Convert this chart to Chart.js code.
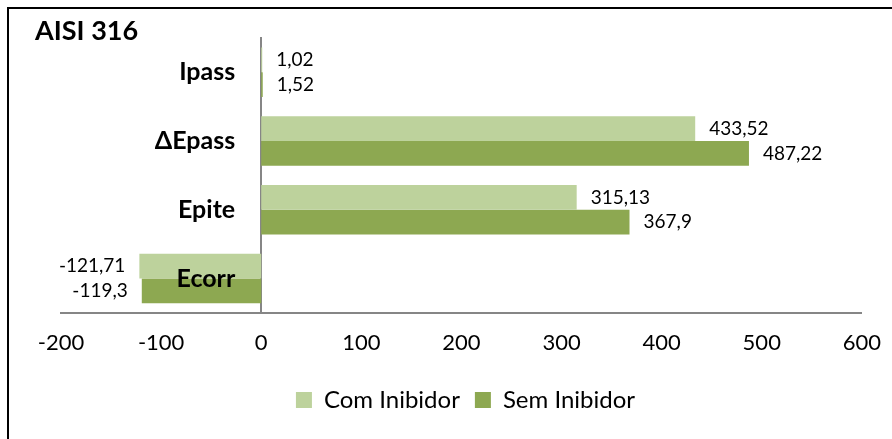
<!DOCTYPE html>
<html>
<head>
<meta charset="utf-8">
<script src="https://cdn.jsdelivr.net/npm/chart.js@4"></script>
<style>
  html, body { margin: 0; padding: 0; background: #fff; }
  #wrap { width: 892px; height: 439px; position: relative; }
</style>
</head>
<body>
<div id="wrap"><canvas id="chart" width="892" height="439"></canvas></div>
<script>
// data
const categories = ["Ipass", "\u0394Epass", "Epite", "Ecorr"];
const comInibidor = [1.02, 433.52, 315.13, -121.71];
const semInibidor = [1.52, 487.22, 367.9, -119.3];
const xTicks = [-200, -100, 0, 100, 200, 300, 400, 500, 600];
const chartTitle = "AISI 316";

const FONT = "Lato, 'Open Sans', sans-serif";

// value labels next to the bar ends, comma as decimal mark
const valueLabels = {
  id: "valueLabels",
  afterDatasetsDraw(chart) {
    const ctx = chart.ctx;
    ctx.save();
    ctx.font = "19px " + FONT;
    ctx.fillStyle = "#000";
    ctx.textBaseline = "middle";
    chart.data.datasets.forEach((ds, i) => {
      const meta = chart.getDatasetMeta(i);
      meta.data.forEach((bar, j) => {
        const v = ds.data[j];
        const txt = String(v).replace(".", ",");
        if (v >= 0) {
          ctx.textAlign = "left";
          ctx.fillText(txt, bar.x + 14, bar.y);
        } else {
          ctx.textAlign = "right";
          ctx.fillText(txt, bar.x - 14, bar.y);
        }
      });
    });
    ctx.restore();
  }
};

// category names sit left of the zero line, over the bars (like the excel original)
const categoryLabels = {
  id: "categoryLabels",
  afterDatasetsDraw(chart) {
    const ctx = chart.ctx;
    const xs = chart.scales.x, ys = chart.scales.y;
    const x0 = xs.getPixelForValue(0);
    ctx.save();
    ctx.font = "bold 25px " + FONT;
    ctx.fillStyle = "#000";
    ctx.textAlign = "right";
    ctx.textBaseline = "middle";
    categories.forEach((c, i) => {
      ctx.fillText(c, x0 - 26, ys.getPixelForValue(i));
    });
    ctx.restore();
  }
};

// free floating title in the top left corner + frame (only top/left edges show)
const titleAndFrame = {
  id: "titleAndFrame",
  afterDraw(chart) {
    const ctx = chart.ctx;
    ctx.save();
    ctx.font = "bold 27px " + FONT;
    ctx.fillStyle = "#000";
    ctx.textAlign = "left";
    ctx.textBaseline = "middle";
    ctx.fillText(chartTitle, 35, 31);
    ctx.strokeStyle = "#000";
    ctx.lineWidth = 2;
    ctx.strokeRect(8, 8, 900, 450);
    ctx.restore();
  }
};

new Chart(document.getElementById("chart"), {
  type: "bar",
  data: {
    labels: categories,
    datasets: [
      {
        label: "Com Inibidor",
        data: comInibidor,
        backgroundColor: "#bdd29c",
        categoryPercentage: 0.72,
        barPercentage: 1.0
      },
      {
        label: "Sem Inibidor",
        data: semInibidor,
        backgroundColor: "#8da851",
        categoryPercentage: 0.72,
        barPercentage: 1.0
      }
    ]
  },
  options: {
    indexAxis: "y",
    responsive: false,
    animation: false,
    layout: { padding: { left: 61, right: 22, top: 38, bottom: 17 } },
    plugins: {
      tooltip: { enabled: false },
      title: { display: false },
      legend: {
        position: "bottom",
        labels: {
          color: "#000",
          boxWidth: 16,
          boxHeight: 16,
          padding: 15,
          font: { family: FONT, size: 24 }
        }
      }
    },
    scales: {
      x: {
        min: -200,
        max: 600,
        afterBuildTicks: (axis) => { axis.ticks = xTicks.map((v) => ({ value: v })); },
        grid: { display: false, drawTicks: false },
        border: { display: true, color: "#868686", width: 2 },
        ticks: {
          color: "#000",
          padding: 11,
          font: { family: FONT, size: 22, lineHeight: 1.73 },
          maxRotation: 0
        }
      },
      y: {
        position: { x: 0 },
        grid: { display: false, drawTicks: false },
        border: { display: true, color: "#868686", width: 2 },
        ticks: { display: false }
      }
    }
  },
  plugins: [valueLabels, categoryLabels, titleAndFrame]
});
</script>
</body>
</html>
